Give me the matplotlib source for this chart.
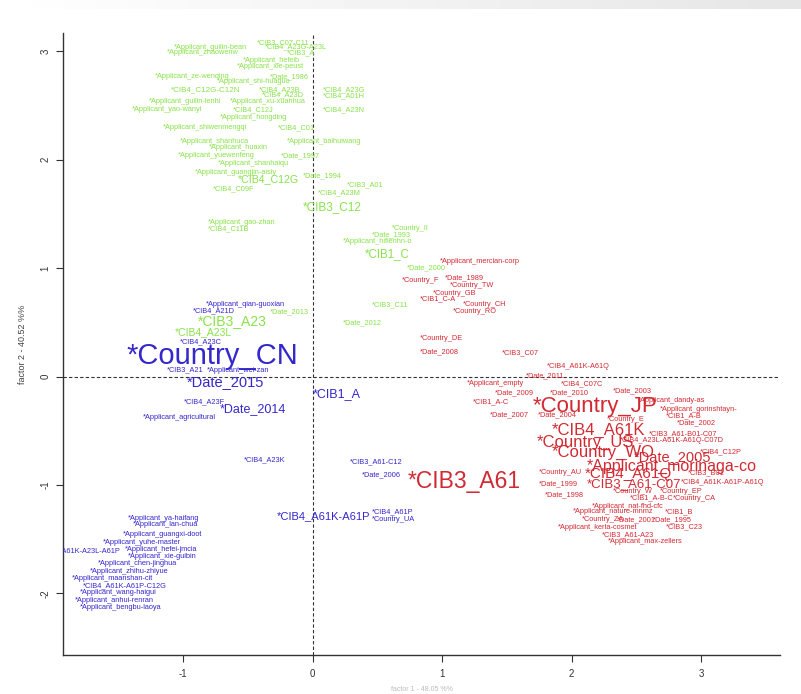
import numpy as np
import matplotlib
matplotlib.use('Agg')
from matplotlib import pyplot as plt

plt.rcParams['font.family'] = ['Liberation Sans', 'DejaVu Sans']
plt.rcParams['axes.unicode_minus'] = False

# ---- data: factor coordinates (left edge of each label) ----
green_labels = ['*CIB3_C07-C11', '*Applicant_guilin-bean', '*CIB4_A23G-A23L', '*Applicant_zhaowenw',
                '*CIB3_A', '*Applicant_hefeib', '*Applicant_xie-peust', '*Applicant_ze-wenqing',
                '*Date_1986', '*Applicant_shi-huaguo', '*CIB4_C12G-C12N', '*CIB4_A23B', '*CIB4_A23G',
                '*CIB4_A23D', '*CIB4_A01H', '*Applicant_guilin-lenhi', '*Applicant_xu-xuanhua',
                '*Applicant_yao-wanyi', '*CIB4_C12J', '*CIB4_A23N', '*Applicant_hongding',
                '*Applicant_shiwenmengqi', '*CIB4_C01', '*Applicant_shanhuca', '*Applicant_baihuiwang',
                '*Applicant_huaxin', '*Applicant_yuewenfeng', '*Date_1997', '*Applicant_shanhaiqu',
                '*Applicant_guangjin-aisiy', '*Date_1994', '*CIB4_C12G', '*CIB4_C09F', '*CIB3_A01',
                '*CIB4_A23M', '*CIB3_C12', '*Applicant_gao-zhan', '*CIB4_C11B', '*Country_II',
                '*Date_1993', '*Applicant_hifienhn-o', '*CIB1_C', '*Date_2000', '*CIB3_C11',
                '*Date_2012', '*Date_2013', '*CIB3_A23', '*CIB4_A23L']
green_x = [-0.43, -1.07, -0.37, -1.13, -0.20, -0.54, -0.59, -1.22, -0.33, -0.74, -1.10, -0.42, 0.08,
           -0.39, 0.08, -1.27, -0.64, -1.40, -0.62, 0.08, -0.72, -1.16, -0.27, -1.03, -0.20, -0.80,
           -1.04, -0.25, -0.73, -0.91, -0.08, -0.58, -0.77, 0.26, 0.04, -0.08, -0.81, -0.81, 0.61,
           0.46, 0.23, 0.40, 0.73, 0.46, 0.23, -0.33, -0.89, -1.07]
green_y = [3.08, 3.04, 3.04, 2.99, 2.99, 2.92, 2.86, 2.77, 2.77, 2.72, 2.65, 2.65, 2.65, 2.60, 2.59,
           2.54, 2.54, 2.46, 2.46, 2.46, 2.39, 2.30, 2.30, 2.17, 2.17, 2.11, 2.04, 2.04, 1.97, 1.88,
           1.85, 1.82, 1.73, 1.77, 1.70, 1.56, 1.42, 1.36, 1.37, 1.31, 1.25, 1.13, 1.00, 0.66, 0.50,
           0.60, 0.51, 0.41]

red_labels = ['*Applicant_mercian-corp', '*Country_F', '*Date_1989', '*Country_TW', '*Country_GB',
              '*CIB1_C-A', '*Country_CH', '*Country_RO', '*Country_DE', '*Date_2008', '*CIB3_C07',
              '*CIB4_A61K-A61Q', '*Date_2011', '*Applicant_empty', '*CIB4_C07C', '*Date_2009',
              '*Date_2010', '*CIB1_A-C', '*Country_JP', '*Date_2007', '*Date_2004', '*Date_2003',
              '*Applicant_dandy-as', '*Applicant_gorinshtayn-', '*CIB1_A-B', '*Country_E', '*Date_2002',
              '*CIB4_A61K', '*CIB3_A61-B01-C07', '*CIB4_A23L-A61K-A61Q-C07D', '*Country_US',
              '*Country_WO', '*CIB4_C12P', '*Date_2005', '*Applicant_morinaga-co', '*Country_AU',
              '*CIB4_A61Q', '*CIB3_B01', '*Date_1999', '*CIB3_A61-C07', '*CIB4_A61K-A61P-A61Q',
              '*Country_W', '*Country_EP', '*Date_1998', '*CIB1_A-B-C', '*Country_CA',
              '*Applicant_nat-fhd-cfc', '*Applicant_nature-mnmz', '*CIB1_B', '*Country_ZA', '*Date_2001',
              '*Date_1995', '*Applicant_kerta-cosmet', '*CIB3_C23', '*CIB3_A61-A23',
              '*Applicant_max-zellers', '*CIB3_A61']
red_x = [0.98, 0.69, 1.02, 1.06, 0.93, 0.83, 1.16, 1.08, 0.83, 0.83, 1.46, 1.81, 1.65, 1.19, 1.92,
         1.41, 1.83, 1.24, 1.70, 1.37, 1.74, 2.32, 2.51, 2.68, 2.73, 2.27, 2.81, 1.85, 2.60, 2.37,
         1.73, 1.85, 2.99, 2.48, 2.12, 1.75, 2.10, 2.90, 1.75, 2.12, 2.84, 2.32, 2.68, 1.79, 2.45,
         2.78, 2.16, 2.01, 2.72, 2.08, 2.35, 2.63, 1.89, 2.73, 2.23, 2.28, 0.73]
red_y = [1.06, 0.89, 0.91, 0.84, 0.77, 0.72, 0.66, 0.60, 0.35, 0.23, 0.22, 0.09, 0.01, -0.06, -0.07,
         -0.15, -0.15, -0.23, -0.28, -0.35, -0.35, -0.13, -0.22, -0.30, -0.36, -0.40, -0.43, -0.50,
         -0.53, -0.59, -0.61, -0.70, -0.69, -0.74, -0.83, -0.89, -0.90, -0.89, -0.99, -0.99, -0.98,
         -1.06, -1.06, -1.09, -1.12, -1.13, -1.20, -1.25, -1.25, -1.32, -1.32, -1.32, -1.39, -1.39,
         -1.46, -1.52, -0.97]

blue_labels = ['*Applicant_qian-guoxian', '*CIB4_A21D', '*CIB4_A23C', '*Country_CN', '*CIB3_A21',
               '*Applicant_wei-zan', '*Date_2015', '*CIB1_A', '*CIB4_A23F', '*Date_2014',
               '*Applicant_agricultural', '*CIB4_A23K', '*CIB3_A61-C12', '*Date_2006',
               '*CIB4_A61K-A61P', '*CIB4_A61P', '*Country_UA', '*Applicant_ya-haifang',
               '*Applicant_lan-chua', '*Applicant_guangxi-doot', '*Applicant_yuhe-master',
               '*CIB4_A61K-A23L-A61P', '*Applicant_hefei-jmcia', '*Applicant_xie-guibin',
               '*Applicant_chen-jinghua', '*Applicant_zhihu-zhiyue', '*Applicant_maanshan-cit',
               '*CIB4_A61K-A61P-C12G', '*Applicant_wang-haigui', '*Applicant_anhui-renran',
               '*Applicant_bengbu-laoya']
blue_x = [-0.83, -0.93, -1.03, -1.44, -1.13, -0.82, -0.97, 0.00, -1.00, -0.72, -1.31, -0.53, 0.29,
          0.38, -0.28, 0.46, 0.46, -1.43, -1.39, -1.47, -1.62, -2.12, -1.45, -1.43, -1.66, -1.72,
          -1.86, -1.78, -1.80, -1.84, -1.80]
blue_y = [0.66, 0.61, 0.32, 0.19, 0.06, 0.06, -0.05, -0.16, -0.23, -0.30, -0.38, -0.77, -0.79,
          -0.91, -1.29, -1.25, -1.32, -1.31, -1.37, -1.46, -1.53, -1.61, -1.60, -1.66, -1.73, -1.80,
          -1.86, -1.93, -1.99, -2.07, -2.13]

x_ticks = [-1, 0, 1, 2, 3]
y_ticks = [-2, -1, 0, 1, 2, 3]
xlabel = 'factor 1 - 48.05 %%'
ylabel = 'factor 2 - 40.52 %%'

# label sizes (points); everything else is small
big = {'*Country_CN': 21, '*CIB3_A61': 16.5, '*Country_JP': 16, '*CIB4_A61K': 12,
       '*Country_US': 12, '*Country_WO': 12, '*Applicant_morinaga-co': 11.5, '*Date_2005': 10.5,
       '*CIB4_A61Q': 11, '*CIB3_A61-C07': 9.5, '*Date_2015': 10.5, '*CIB3_A23': 10, '*Date_2014': 9,
       '*CIB1_A': 9, '*CIB4_A61K-A61P': 8, '*CIB4_A23L': 7.5, '*CIB3_C12': 8.5, '*CIB1_C': 8.3,
       '*CIB4_C12G': 7.7, '*CIB4_C12G-C12N': 5.8}
small = 5.3

fig = plt.figure(figsize=(8.01, 6.94), dpi=100)
ax = fig.add_axes([63 / 801, 39 / 694, 717 / 801, 622 / 694])

groups = [(green_labels, green_x, green_y, '#88e24a'),
          (red_labels, red_x, red_y, '#d22a33'),
          (blue_labels, blue_x, blue_y, '#3427cc')]
for labs, xs, ys, col in groups:
    for lab, xv, yv in zip(labs, xs, ys):
        fs = big.get(lab, small)
        ax.text(xv, yv, lab, fontsize=fs, color=col, ha='left', va='center', clip_on=True)

ax.axhline(0, color='#333333', lw=0.8, ls=(0, (3, 2)))
ax.axvline(0, color='#333333', lw=0.8, ls=(0, (3, 2)))

ax.set_xlim(-1.93, 3.61)
ax.set_ylim(-2.57, 3.17)
ax.set_xticks(x_ticks)
ax.set_yticks(y_ticks)
ax.set_yticklabels([str(v) for v in y_ticks], rotation=90, va='center')
ax.tick_params(direction='out', length=5, width=0.8, labelsize=7, colors='#333333', pad=4)
ax.tick_params(axis='x', pad=5)
for s in ['top', 'right']:
    ax.spines[s].set_visible(False)
for s in ['left', 'bottom']:
    ax.spines[s].set_color('#333333')
    ax.spines[s].set_linewidth(1.0)
ax.set_xlabel(xlabel, fontsize=5, color='#bbbbbb', labelpad=5)
ax.set_ylabel(ylabel, fontsize=6.5, color='#444444', labelpad=10)

# grey strip of the screenshot at the top edge
strip = fig.add_axes([0, 1 - 9 / 694, 1, 9 / 694])
strip.imshow(np.linspace(1.0, 0.9, 200)[None, :], cmap='gray', vmin=0, vmax=1, aspect='auto')
strip.axis('off')

fig.savefig('out.png', dpi=100)
